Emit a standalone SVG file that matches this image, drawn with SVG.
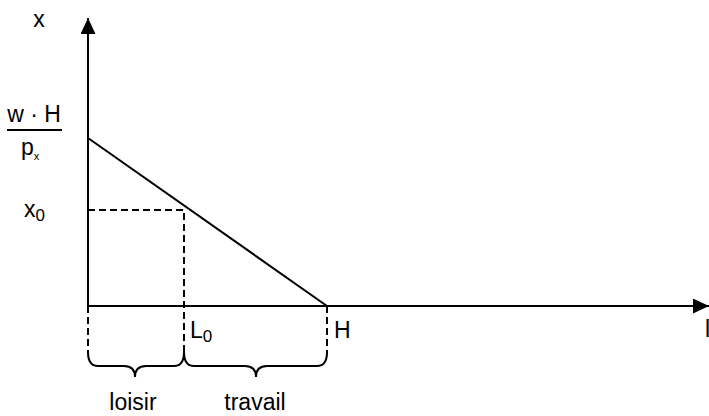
<svg xmlns="http://www.w3.org/2000/svg" width="709" height="416" viewBox="0 0 709 416">
<style>
.ax{stroke:#000;stroke-width:2;fill:none}
.ds{stroke:#000;stroke-width:2;fill:none;stroke-dasharray:7,4}
.br{stroke:#000;stroke-width:2;fill:none}
text{font-family:"Liberation Sans",Arial,sans-serif;font-size:23px;fill:#000}
.sub{font-size:17px}
</style>
<defs>
<marker id="ah" viewBox="0 0 16 15" refX="16" refY="7.5" markerWidth="16" markerHeight="15" markerUnits="userSpaceOnUse" orient="auto">
<path d="M0,0 L16,7.5 L0,15 Z" fill="#000"/>
</marker>
</defs>
<g id="connectors">
<line class="ax" x1="88" y1="306" x2="88" y2="18" marker-end="url(#ah)"/>
<line class="ax" x1="88" y1="306" x2="709" y2="306" marker-end="url(#ah)"/>
<line class="ax" x1="88" y1="138" x2="327" y2="306"/>
<polyline class="ds" points="88,210 184,210 184,354"/>
<line class="ds" x1="88" y1="306" x2="88" y2="354"/>
<line class="ds" x1="327" y1="306" x2="327" y2="354"/>
<path class="br" d="M88,352 Q88,366 98,366 L124,366 Q135,366 135,377 Q135,366 146,366 L174,366 Q184,366 184,352"/>
<path class="br" d="M184,352 Q184,366 194,366 L245,366 Q256,366 256,377 Q256,366 267,366 L317,366 Q327,366 327,352"/>
</g>
<g id="label-x"><text x="39" y="27" text-anchor="middle" font-size="24">x</text></g>
<g id="label-frac">
<text x="34" y="122" text-anchor="middle" font-size="21">w · H</text>
<line x1="7" y1="130" x2="62" y2="130" stroke="#000" stroke-width="2"/>
<text x="21" y="155">p<tspan font-size="11" dy="5">x</tspan></text>
</g>
<g id="label-x0"><text x="24" y="217">x<tspan class="sub" dy="4">0</tspan></text></g>
<g id="label-L0"><text x="190" y="338">L<tspan class="sub" dy="4">0</tspan></text></g>
<g id="label-H"><text x="334" y="338">H</text></g>
<g id="label-L"><text x="705" y="337">l</text></g>
<g id="label-loisir"><text x="133" y="410" text-anchor="middle">loisir</text></g>
<g id="label-travail"><text x="255" y="410" text-anchor="middle">travail</text></g>
</svg>
